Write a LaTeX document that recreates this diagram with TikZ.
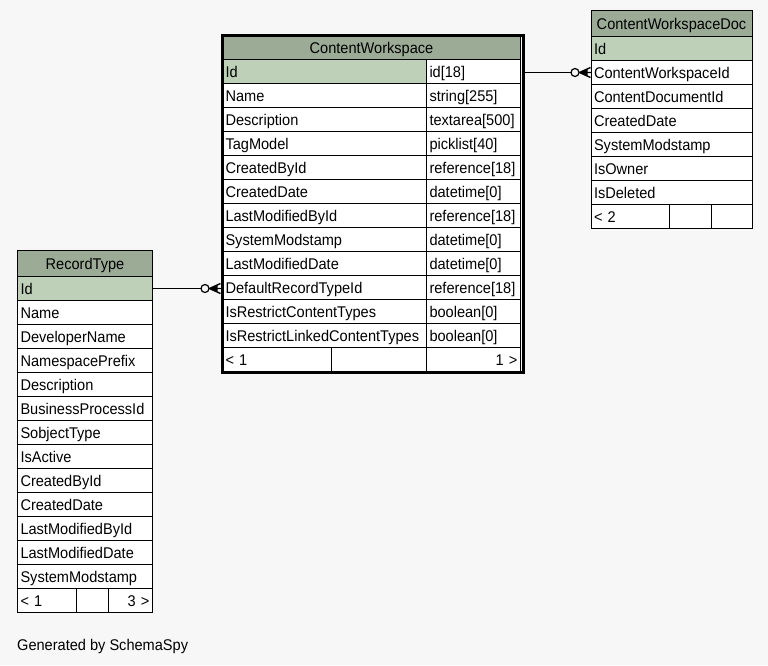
\documentclass[tikz,border=0pt]{standalone}
\usepackage{fontspec}
\setmainfont{Liberation Sans}[FakeStretch=0.94]
\usetikzlibrary{calc}
\definecolor{bg}{HTML}{F7F7F7}
\definecolor{hdr}{HTML}{9BAB96}
\definecolor{pk}{HTML}{BED1B8}

\begin{document}
\begin{tikzpicture}[x=1pt,y=-1pt,
  font=\fontsize{15.5}{18}\selectfont,
  cell/.style={draw=black, line width=1pt, fill=white, anchor=north west,
    inner xsep=3pt, inner ysep=0pt, minimum height=24pt,
    text height=14pt, text depth=3pt, align=left},
  headcell/.style={cell, fill=hdr, align=center},
  keycell/.style={cell, fill=pk},
  conn/.style={draw=black, line width=1pt},
  crowodot/.pic={
    \draw[line width=1.4pt] (-11,0) -- (0,-5) (-11,0) -- (0,0) (-11,0) -- (0,5);
    \fill (-11,0) -- (-3,-3) -- (-3,3) -- cycle;
    \draw[line width=1.2pt, fill=bg] (-15.5,0) circle (4);
  }]
\useasboundingbox (0,0) rectangle (768,665);
\fill[bg] (0,0) rectangle (768,665);

% ---------------- ContentWorkspace ----------------
\node[headcell, text width=292pt] (cw-h) at (222,35) {ContentWorkspace};
\node[keycell, text width=198pt] (cw-r0) at (222,59) {Id};
\node[cell, text width=88pt] (cw-t0) at (426,59) {id[18]};
\foreach \fn/\ty [count=\k from 1] in {
    Name/string[255], Description/textarea[500], TagModel/picklist[40],
    CreatedById/reference[18], CreatedDate/datetime[0],
    LastModifiedById/reference[18], SystemModstamp/datetime[0],
    LastModifiedDate/datetime[0], DefaultRecordTypeId/reference[18],
    IsRestrictContentTypes/boolean[0], IsRestrictLinkedContentTypes/boolean[0]} {
  \node[cell, text width=198pt] (cw-r\k) at (222,59+24*\k) {\fn};
  \node[cell, text width=88pt] (cw-t\k) at (426,59+24*\k) {\ty};
}
\node[cell, text width=103pt] (cw-f1) at (222,347) {< 1};
\node[cell, text width=89pt] (cw-f2) at (331,347) {};
\node[cell, text width=88pt, align=right] (cw-f3) at (426,347) {1 >};
\node[draw=black, line width=3pt, inner sep=0pt, anchor=north west,
  minimum width=301pt, minimum height=337.5pt] (cw) at (220.5,33.5) {};

% ---------------- ContentWorkspaceDoc ----------------
\node[headcell, text width=155pt, minimum height=26pt] (doc-h) at (590.5,10) {ContentWorkspaceDoc};
\node[keycell, text width=155pt] (doc-r0) at (590.5,36) {Id};
\foreach \fn [count=\k from 1] in {ContentWorkspaceId, ContentDocumentId,
    CreatedDate, SystemModstamp, IsOwner, IsDeleted} {
  \node[cell, text width=155pt] (doc-r\k) at (590.5,36+24*\k) {\fn};
}
\node[cell, text width=72.5pt] (doc-f1) at (590.5,204) {< 2};
\node[cell, text width=36pt] (doc-f2) at (669,204) {};
\node[cell, text width=34.5pt] (doc-f3) at (711,204) {};

% ---------------- RecordType ----------------
\node[headcell, text width=129pt, minimum height=26pt] (rt-h) at (17,250) {RecordType};
\node[keycell, text width=129pt] (rt-r0) at (17,276) {Id};
\foreach \fn [count=\k from 1] in {Name, DeveloperName, NamespacePrefix,
    Description, BusinessProcessId, SobjectType, IsActive, CreatedById,
    CreatedDate, LastModifiedById, LastModifiedDate, SystemModstamp} {
  \node[cell, text width=129pt] (rt-r\k) at (17,276+24*\k) {\fn};
}
\node[cell, text width=53pt] (rt-f1) at (17,588) {< 1};
\node[cell, text width=26pt] (rt-f2) at (76,588) {};
\node[cell, text width=38pt, align=right] (rt-f3) at (108,588) {3 >};

% ---------------- relationships ----------------
\draw[conn] (doc-r1.west -| cw.east) -- (doc-r1.west) coordinate (docend);
\pic at (docend) {crowodot};
\draw[conn] (rt-r0.east) -- (rt-r0.east -| cw.west) coordinate (cwend);
\pic at (cwend) {crowodot};

\node[anchor=base west, inner sep=0pt] (gen) at (17,650) {Generated by SchemaSpy};
\end{tikzpicture}
\end{document}
